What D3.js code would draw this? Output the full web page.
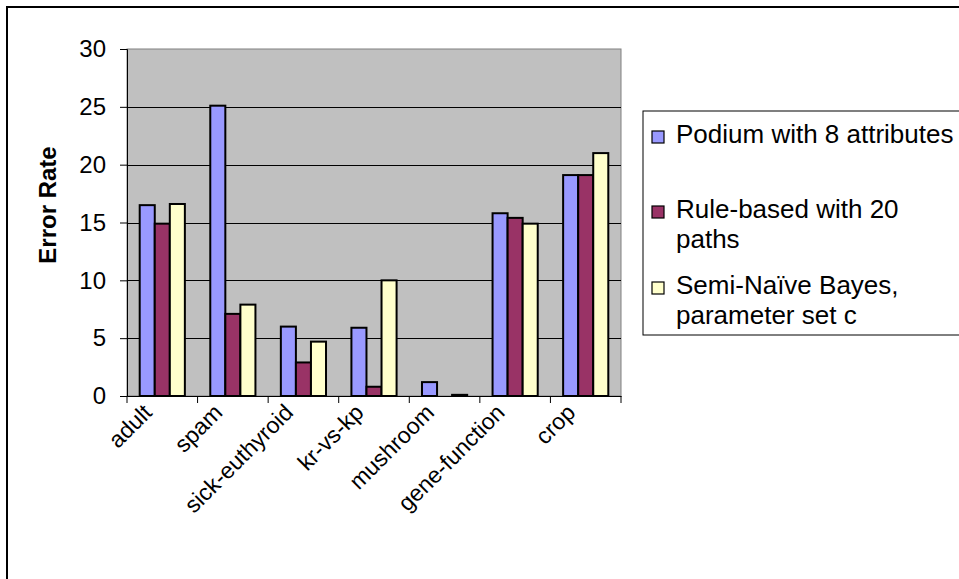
<!DOCTYPE html>
<html>
<head>
<meta charset="utf-8">
<script src="https://cdn.jsdelivr.net/npm/d3@7"></script>
<style>
  html, body { margin: 0; padding: 0; background: #fff; }
  svg { display: block; font-family: "Liberation Sans", Arial, sans-serif; }
</style>
</head>
<body>
<svg id="chart" width="959" height="579"></svg>
<script>
// Error rates per dataset for three classifiers
const categories = ["adult", "spam", "sick-euthyroid", "kr-vs-kp", "mushroom", "gene-function", "crop"];
const seriesNames = ["Podium with 8 attributes", "Rule-based with 20 paths", "Semi-Naïve Bayes, parameter set c"];
const podium    = [16.5, 25.1, 6.0, 5.9, 1.2, 15.8, 19.1];
const ruleBased = [14.9, 7.1, 2.9, 0.8, 0.0, 15.4, 19.1];
const semiNaive = [16.6, 7.9, 4.7, 10.0, 0.1, 14.9, 21.0];
const yTicks = [0, 5, 10, 15, 20, 25, 30];
const colors = ["#9999FF", "#993366", "#FFFFCC"];
const legendLines = [["Podium with 8 attributes"], ["Rule-based with 20", "paths"], ["Semi-Naïve Bayes,", "parameter set c"]];

const seriesValues = [podium, ruleBased, semiNaive];
const svg = d3.select("#chart");

// chart frame (runs past the right and bottom edges)
svg.append("rect")
  .attr("x", 7).attr("y", 7).attr("width", 1000).attr("height", 700)
  .attr("fill", "#fff").attr("stroke", "#000").attr("stroke-width", 2);

const plot = { left: 127, right: 621, top: 49, bottom: 396 };

const x = d3.scaleBand().domain(categories).range([plot.left, plot.right]).padding(0);
const xSub = d3.scaleBand().domain(d3.range(3)).range([x.step() * 0.18, x.step() * 0.82]).padding(0);
const y = d3.scaleLinear().domain([0, 30]).range([plot.bottom, plot.top]);

// plot area
svg.append("rect")
  .attr("x", plot.left).attr("y", plot.top)
  .attr("width", plot.right - plot.left).attr("height", plot.bottom - plot.top)
  .attr("fill", "#C0C0C0").attr("stroke", "#808080").attr("stroke-width", 1);

// gridlines
svg.append("g").selectAll("line")
  .data(yTicks.filter(t => t > 0 && t < 30))
  .join("line")
  .attr("x1", plot.left).attr("x2", plot.right)
  .attr("y1", d => Math.round(y(d)) + 0.5).attr("y2", d => Math.round(y(d)) + 0.5)
  .attr("stroke", "#000").attr("stroke-width", 1);

// bars
const groups = svg.append("g").selectAll("g")
  .data(categories)
  .join("g")
  .attr("transform", d => `translate(${x(d)},0)`);

groups.selectAll("rect")
  .data((d, i) => seriesValues.map((vals, s) => ({ s, v: vals[i] })))
  .join("rect")
  .attr("x", d => xSub(d.s))
  .attr("width", xSub.bandwidth())
  .attr("y", d => y(d.v))
  .attr("height", d => plot.bottom - y(d.v))
  .attr("fill", d => colors[d.s])
  .attr("stroke", "#000").attr("stroke-width", 2)
  .attr("display", d => d.v > 0 ? null : "none");

// y axis
const yAxis = svg.append("g")
  .attr("transform", `translate(${plot.left},0)`)
  .call(d3.axisLeft(y).tickValues(yTicks).tickSize(7).tickPadding(14));
yAxis.select(".domain").attr("stroke", "#000");
yAxis.selectAll(".tick line").attr("stroke", "#000");
yAxis.selectAll(".tick text").attr("font-size", 24).attr("fill", "#000")
  .attr("font-family", "Liberation Sans, Arial, sans-serif");

// x axis
const xAxis = svg.append("g")
  .attr("transform", `translate(0,${plot.bottom})`)
  .call(d3.axisBottom(x).tickSize(0).tickFormat(""));
xAxis.select(".domain").attr("stroke", "#000");
xAxis.selectAll(".tick").remove();

// category separators below the axis
svg.append("g").selectAll("line")
  .data(d3.range(categories.length + 1))
  .join("line")
  .attr("x1", i => plot.left + i * x.step()).attr("x2", i => plot.left + i * x.step())
  .attr("y1", plot.bottom).attr("y2", plot.bottom + 7)
  .attr("stroke", "#000");

// rotated category labels
svg.append("g").selectAll("text")
  .data(categories)
  .join("text")
  .attr("transform", d => `translate(${x(d) + x.bandwidth() / 2 - 9},${plot.bottom + 18}) rotate(-45)`)
  .attr("text-anchor", "end")
  .attr("font-size", 23)
  .text(d => d);

// y axis title
svg.append("text")
  .attr("transform", `translate(56,205) rotate(-90)`)
  .attr("text-anchor", "middle")
  .attr("font-size", 24).attr("font-weight", "bold")
  .text("Error Rate");

// legend
const legend = svg.append("g");
legend.append("rect")
  .attr("x", 643).attr("y", 111).attr("width", 400).attr("height", 224)
  .attr("fill", "#fff").attr("stroke", "#000").attr("stroke-width", 1);

const itemBase = [143, 218, 294];
legendLines.forEach((lines, i) => {
  legend.append("rect")
    .attr("x", 652).attr("y", itemBase[i] - 12).attr("width", 12).attr("height", 12)
    .attr("fill", colors[i]).attr("stroke", "#000").attr("stroke-width", 1.2);
  const t = legend.append("text").attr("x", 676).attr("y", itemBase[i]).attr("font-size", 26);
  lines.forEach((line, k) => {
    t.append("tspan").attr("x", 676).attr("dy", k === 0 ? 0 : 30).text(line);
  });
});
</script>
</body>
</html>
